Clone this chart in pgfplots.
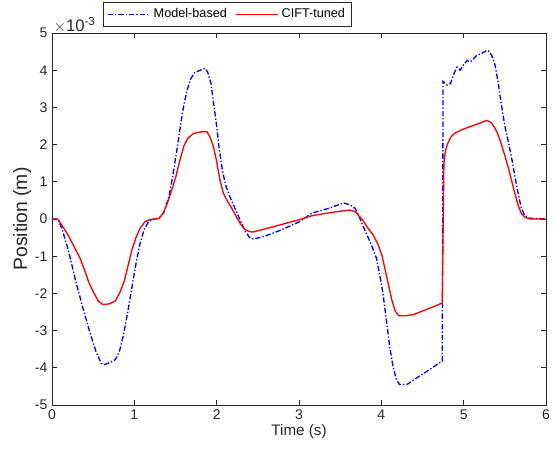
\documentclass[border=0pt]{standalone}
\usepackage{fontspec}
\setmainfont{Liberation Sans}
\usepackage{pgfplots}
\pgfplotsset{compat=1.18}
\definecolor{axgray}{RGB}{38,38,38}

\pgfplotstableread{
t y
0 0
0.07 0
0.12 -0.25
0.20 -0.85
0.28 -1.6
0.37 -2.35
0.46 -3.05
0.54 -3.6
0.60 -3.88
0.63 -3.92
0.70 -3.86
0.77 -3.78
0.82 -3.55
0.87 -3.1
0.92 -2.5
0.97 -1.85
1.02 -1.2
1.07 -0.65
1.12 -0.28
1.17 -0.08
1.22 -0.01
1.30 0.02
1.36 0.18
1.42 0.6
1.47 1.2
1.52 1.9
1.56 2.5
1.60 3.05
1.64 3.45
1.68 3.75
1.73 3.93
1.80 4.0
1.86 4.05
1.89 3.95
1.93 3.65
1.97 3.0
2.00 2.5
2.03 1.9
2.07 1.3
2.11 0.9
2.16 0.6
2.22 0.3
2.28 0
2.34 -0.3
2.40 -0.5
2.45 -0.54
2.60 -0.45
2.80 -0.28
3.00 -0.08
3.16 0.16
3.35 0.28
3.54 0.43
3.62 0.38
3.68 0.29
3.72 0.12
3.77 -0.15
3.82 -0.4
3.88 -0.7
3.94 -1.05
3.98 -1.5
4.02 -2.0
4.06 -2.7
4.10 -3.4
4.14 -3.95
4.18 -4.3
4.22 -4.45
4.31 -4.45
4.43 -4.27
4.55 -4.1
4.74 -3.82
4.75 3.7
4.80 3.6
4.84 3.64
4.88 3.9
4.92 4.08
4.96 4.0
5.00 4.15
5.04 4.26
5.08 4.22
5.16 4.4
5.22 4.45
5.28 4.53
5.30 4.52
5.34 4.4
5.38 4.15
5.42 3.65
5.46 3.05
5.50 2.5
5.55 2.0
5.59 1.55
5.63 1.05
5.67 0.6
5.70 0.3
5.74 0.1
5.80 0.02
6.00 0
}\modelbased

\pgfplotstableread{
t y
0 0
0.07 0
0.13 -0.2
0.20 -0.45
0.27 -0.75
0.34 -1.05
0.40 -1.4
0.45 -1.72
0.50 -1.95
0.56 -2.2
0.62 -2.3
0.70 -2.28
0.77 -2.2
0.83 -1.95
0.88 -1.65
0.93 -1.2
0.97 -0.83
1.02 -0.5
1.07 -0.25
1.13 -0.07
1.20 -0.01
1.30 0.02
1.35 0.15
1.40 0.42
1.45 0.75
1.50 1.1
1.55 1.55
1.60 1.95
1.65 2.17
1.72 2.3
1.80 2.34
1.88 2.35
1.92 2.2
1.96 1.95
2.00 1.55
2.04 1.05
2.08 0.7
2.13 0.48
2.18 0.3
2.23 0.1
2.28 -0.1
2.34 -0.28
2.40 -0.34
2.44 -0.35
2.70 -0.2
3.00 -0.02
3.16 0.09
3.35 0.16
3.54 0.22
3.62 0.24
3.68 0.2
3.77 -0.02
3.83 -0.22
3.90 -0.43
3.96 -0.68
4.01 -1.0
4.05 -1.4
4.09 -1.8
4.13 -2.2
4.17 -2.48
4.21 -2.6
4.30 -2.6
4.39 -2.57
4.55 -2.43
4.74 -2.26
4.76 1.5
4.78 1.85
4.81 2.05
4.85 2.22
4.90 2.32
5.00 2.42
5.10 2.5
5.20 2.58
5.28 2.65
5.33 2.6
5.38 2.45
5.42 2.25
5.46 2.0
5.50 1.7
5.54 1.4
5.58 1.05
5.62 0.7
5.66 0.38
5.70 0.15
5.75 0.04
5.80 0
6.00 0
}\ciftuned

\begin{document}
\begin{tikzpicture}
\begin{axis}[
  scale only axis, width=370.5pt, height=279pt,
  xmin=0, xmax=6, ymin=-5, ymax=5,
  xtick={0,...,6}, ytick={-5,...,5},
  tick align=inside, tick pos=both,
  major tick length=4pt,
  axis line style={axgray, line width=0.5pt},
  every tick/.style={axgray, line width=0.5pt},
  tick label style={font=\fontsize{10.5}{12}\selectfont, text=axgray},
  /pgf/number format/assume math mode=true,
  xlabel={Time (s)}, ylabel={Position (m)},
  xlabel style={font=\fontsize{11.4}{13}\selectfont, text=axgray, yshift=3pt},
  ylabel style={font=\fontsize{14.5}{16}\selectfont, text=axgray, yshift=-4pt},
  legend columns=-1,
  legend style={at={(0.355,1.018)}, anchor=south, draw=axgray, line width=0.5pt,
    font=\fontsize{9.5}{11}\selectfont, inner xsep=3pt, inner ysep=2.5pt,
    /tikz/every even column/.append style={column sep=4pt}},
  legend image code/.code={\draw[#1] (0pt,0pt) -- (32pt,0pt);},
]
\addplot[blue, line width=1pt, dash pattern=on 4pt off 1.5pt on 1pt off 1.5pt] table[x=t, y=y] {\modelbased};
\addplot[red, line width=1pt] table[x=t, y=y] {\ciftuned};
\legend{Model-based, CIFT-tuned}
\coordinate (o) at (rel axis cs:0,0);
\coordinate (tl) at (rel axis cs:0,1);
\coordinate (tr) at (rel axis cs:1,1);
\end{axis}
\node[anchor=base west, inner sep=0pt, font=\fontsize{12.5}{14}\selectfont, text=axgray]
  at ([shift={(1pt,1pt)}]tl) {$\times$10\textsuperscript{-3}};
\path (o) ++(-39pt,-34.5pt) rectangle ([shift={(7.5pt,24.75pt)}]tr);
\end{tikzpicture}
\end{document}
